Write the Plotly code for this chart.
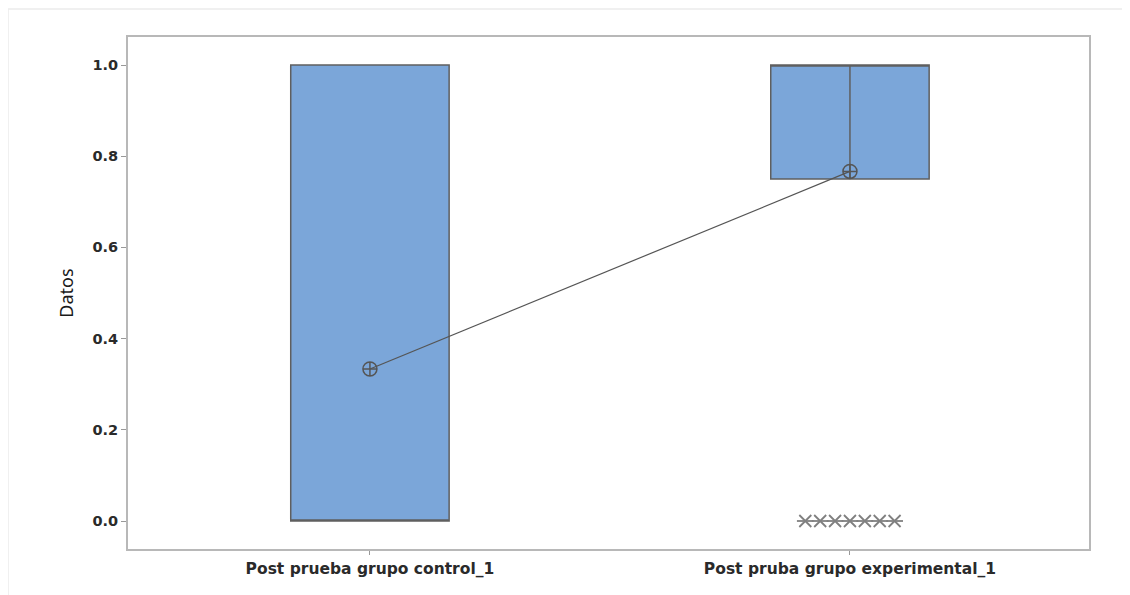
import plotly.graph_objects as go

categories = ["Post prueba grupo control_1", "Post pruba grupo experimental_1"]
q1 = [0.0, 0.75]
median = [0.0, 1.0]
q3 = [1.0, 1.0]
lower_adj = [0.0, 1.0]
upper_adj = [1.0, 1.0]
means = [1/3, 23/30]
outlier_values = [[], [0, 0, 0, 0, 0, 0, 0]]
tick_vals = [0.0, 0.2, 0.4, 0.6, 0.8, 1.0]

BOX_FILL = "#7ba6d9"
EDGE = "#5f5f5f"
pos = list(range(len(categories)))

fig = go.Figure()
for i, c in enumerate(categories):
    fig.add_trace(go.Box(
        x=[pos[i]], q1=[q1[i]], median=[median[i]], q3=[q3[i]],
        lowerfence=[min(lower_adj[i], q1[i])], upperfence=[max(upper_adj[i], q3[i])],
        width=0.33, fillcolor=BOX_FILL, line=dict(color=EDGE, width=1.5),
        boxpoints=False, whiskerwidth=0, showlegend=False, hoverinfo="skip"))
    # whiskers from box edges to adjacent values (drawn even when inside the box)
    for edge, adj in ((q1[i], lower_adj[i]), (q3[i], upper_adj[i])):
        if adj != edge:
            fig.add_trace(go.Scatter(x=[pos[i], pos[i]], y=[edge, adj], mode="lines",
                                     line=dict(color=EDGE, width=1.5),
                                     showlegend=False, hoverinfo="skip"))

# outliers (tied values stacked side by side), Minitab-like 6-arm asterisk
for i, vals in enumerate(outlier_values):
    n = len(vals)
    if n == 0:
        continue
    step = 0.031
    xs = [pos[i] + (k - (n - 1) / 2) * step for k in range(n)]
    for sym in ("x-thin-open", "line-ew-open"):
        fig.add_trace(go.Scatter(x=xs, y=vals, mode="markers", showlegend=False,
                                 hoverinfo="skip",
                                 marker=dict(symbol=sym, size=12, color="#808080",
                                             line=dict(color="#808080", width=1.8))))

# mean connect line
fig.add_trace(go.Scatter(x=pos, y=means, mode="lines+markers", showlegend=False,
                         line=dict(color="#555555", width=1.2),
                         marker=dict(symbol="circle-cross-open", size=14, color="#555555",
                                     line=dict(color="#555555", width=1.5))))

W, H = 1122, 587
fig.update_layout(
    width=W, height=H,
    margin=dict(l=120, r=41, t=29, b=46),
    paper_bgcolor="white", plot_bgcolor="white",
    font=dict(family="DejaVu Sans, sans-serif", color="#222222"),
    shapes=[dict(type="rect", xref="paper", yref="paper",
                 x0=-120/961, x1=1.1, y0=-0.2, y1=1 + 28/512,
                 line=dict(color="#ececec", width=1.5), layer="below")],
)
fig.update_xaxes(range=[-0.504, 1.498], tickvals=pos, ticktext=categories,
                 showgrid=False, zeroline=False, showline=True, mirror=True,
                 linecolor="#b8b8b8", linewidth=2, ticks="outside", ticklen=4,
                 tickcolor="#999999",
                 tickfont=dict(size=15.5, color="#2a2a2a", weight="bold"))
fig.update_yaxes(range=[-0.0614, 1.0614], tickvals=tick_vals, tickformat=".1f",
                 showgrid=False, zeroline=False, showline=True, mirror=True,
                 linecolor="#b8b8b8", linewidth=2, ticks="outside", ticklen=5,
                 tickcolor="#999999",
                 tickfont=dict(size=14.5, color="#2a2a2a", weight="bold"),
                 title=dict(text="Datos", font=dict(family="Noto Sans, sans-serif", size=18,
                                                    color="#1a1a1a"), standoff=14))
fig.write_html("out.html")
